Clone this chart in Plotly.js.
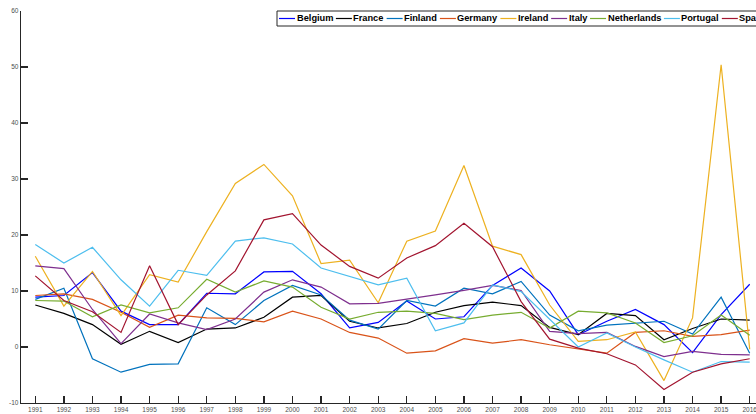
<!DOCTYPE html>
<html>
<head>
<meta charset="utf-8">
<script src="https://cdn.plot.ly/plotly-3.0.1.min.js"></script>
<style>
html, body { margin:0; padding:0; overflow:hidden; background:#fff; }
#chart { width:770px; height:414px; }
</style>
</head>
<body>
<div id="chart"></div>
<script>
const years = [1991,1992,1993,1994,1995,1996,1997,1998,1999,2000,2001,2002,2003,2004,2005,2006,2007,2008,2009,2010,2011,2012,2013,2014,2015,2016];
const countries = ['Belgium','France','Finland','Germany','Ireland','Italy','Netherlands','Portugal','Spain'];
const belgium = [8.9, 9.2, 13.3, 6.4, 4.0, 4.0, 9.6, 9.5, 13.4, 13.5, 9.5, 3.4, 4.4, 8.2, 5.0, 5.4, 11.0, 14.1, 10.0, 2.2, 4.6, 6.7, 4.0, -1.0, 5.8, 11.2];
const france = [7.5, 6.0, 4.0, 0.5, 2.8, 0.8, 3.2, 3.4, 5.3, 8.9, 9.2, 4.6, 3.4, 4.2, 6.2, 7.4, 8.0, 7.4, 3.5, 2.2, 6.0, 5.6, 1.3, 3.3, 5.0, 4.8];
const finland = [8.5, 10.5, -2.1, -4.5, -3.1, -3.0, 7.0, 4.0, 8.3, 11.0, 9.3, 4.8, 3.2, 8.3, 7.3, 10.5, 9.5, 11.7, 5.7, 2.9, 3.9, 4.3, 4.6, 2.3, 8.9, -1.1];
const germany = [9.2, 9.5, 8.5, 6.2, 3.5, 5.7, 5.2, 5.1, 4.5, 6.4, 5.0, 2.6, 1.6, -1.1, -0.7, 1.5, 0.7, 1.3, 0.4, -0.4, -1.1, 2.6, 2.9, 1.9, 2.2, 3.0];
const ireland = [16.2, 7.3, 13.5, 5.6, 12.9, 11.6, 20.6, 29.2, 32.6, 27.0, 14.9, 15.5, 7.9, 18.9, 20.7, 32.4, 18.0, 16.5, 7.5, 1.0, 1.3, 2.7, -6.0, 5.2, 50.4, -0.4];
const italy = [14.5, 14.0, 6.7, 0.6, 5.9, 4.3, 3.1, 5.0, 9.8, 12.0, 10.7, 7.7, 7.8, 8.5, 9.3, 10.1, 11.0, 10.1, 2.8, 2.4, 2.6, 0.1, -1.7, -0.8, -1.3, -1.4];
const netherlands = [8.3, 8.2, 5.4, 7.5, 6.1, 7.0, 12.1, 9.8, 11.8, 10.7, 7.1, 5.0, 6.2, 6.4, 6.0, 4.9, 5.7, 6.2, 3.4, 6.4, 6.1, 4.3, 0.8, 2.0, 5.7, 2.1];
const portugal = [18.3, 15.0, 17.8, 12.0, 7.3, 13.7, 12.8, 18.9, 19.5, 18.4, 14.1, 12.6, 11.1, 12.3, 2.9, 4.3, 11.1, 9.9, 4.9, 0.0, 2.5, 0.0, -2.3, -4.5, -2.6, -2.7];
const spain = [12.7, 8.3, 6.3, 2.6, 14.5, 4.0, 9.3, 13.6, 22.7, 23.8, 18.2, 14.4, 12.3, 15.9, 18.1, 22.1, 17.9, 8.1, 1.4, -0.2, -1.2, -3.2, -7.6, -4.5, -3.0, -2.1];
const yTicks = [-10, 0, 10, 20, 30, 40, 50, 60];

const seriesValues = [belgium, france, finland, germany, ireland, italy, netherlands, portugal, spain];
const colors = ['#0000FF','#000000','#0072BD','#D95319','#EDB120','#7E2F8E','#77AC30','#4DBEEE','#A2142F'];

const W = 770, H = 414;
const M = {l:21, r:6, t:11, b:11};
const PW = W - M.l - M.r, PH = H - M.t - M.b;
const px2x = p => (p - M.l) / PW;
const py2y = p => (H - M.b - p) / PH;

const traces = countries.map((name, i) => ({
  type: 'scatter', mode: 'lines', name: name,
  x: years, y: seriesValues[i],
  line: {color: colors[i], width: 1.2},
  hoverinfo: 'skip'
}));

// custom MATLAB-like legend
const LEG_FONT = 9.25;
const canvas = document.createElement('canvas');
const ctx = canvas.getContext('2d');
ctx.font = 'bold ' + LEG_FONT + 'px "Liberation Sans", Arial, sans-serif';
const shapes = [];
const annotations = [];
const boxLeft = 277, boxTop = 11, boxBottom = 26, midY = 18.5;
shapes.push({type:'rect', xref:'paper', yref:'paper', x0:px2x(boxLeft), x1:px2x(820), y0:py2y(boxBottom), y1:py2y(boxTop),
  line:{color:'#262626', width:1}, fillcolor:'#ffffff', layer:'above'});
let cur = boxLeft + 1;
countries.forEach((name, i) => {
  const w = ctx.measureText(name).width;
  shapes.push({type:'line', xref:'paper', yref:'paper', x0:px2x(cur+1), x1:px2x(cur+17), y0:py2y(midY), y1:py2y(midY),
    line:{color:colors[i], width:1.2}, layer:'above'});
  annotations.push({xref:'paper', yref:'paper', x:px2x(cur+17.5), y:py2y(midY), xanchor:'left', yanchor:'middle',
    text:'<b>'+name+'</b>', showarrow:false, borderpad:0,
    font:{family:'"Liberation Sans", Arial, sans-serif', size:LEG_FONT, color:'#000'}});
  cur += w + 20.4;
});

const axisCommon = {
  showgrid:false, zeroline:false, showline:true, linecolor:'#262626', linewidth:1.3,
  ticks:'inside', ticklen:7, tickwidth:1.3, tickcolor:'#262626',
  tickfont:{family:'"Liberation Sans", Arial, sans-serif', size:6.5, color:'#4d4d4d'},
  fixedrange:true
};

const layout = {
  width: W, height: H, autosize:false,
  margin: M,
  paper_bgcolor:'#fff', plot_bgcolor:'#fff',
  showlegend:false,
  xaxis: Object.assign({}, axisCommon, {range:[1990.5, 2016.5], tickmode:'array', tickvals:years, ticktext:years.map(String)}),
  yaxis: Object.assign({}, axisCommon, {range:[-10, 60], tickmode:'array', tickvals:yTicks, ticktext:yTicks.map(String)}),
  shapes: shapes,
  annotations: annotations
};

Plotly.newPlot('chart', traces, layout, {displayModeBar:false, staticPlot:true});
</script>
</body>
</html>
